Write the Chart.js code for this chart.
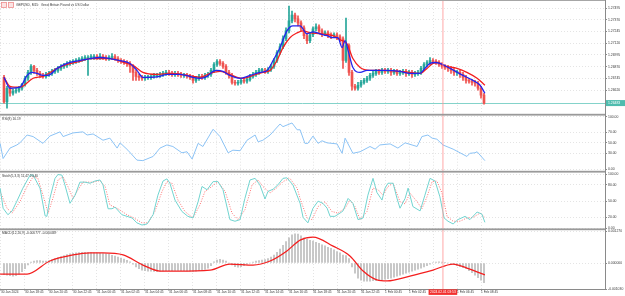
<!DOCTYPE html>
<html>
<head>
<meta charset="utf-8">
<title>GBPUSD M15</title>
<script src="https://cdn.jsdelivr.net/npm/chart.js@4.4.1/dist/chart.umd.min.js"></script>
<style>
html,body{margin:0;padding:0;background:#fff;}
#wrap{position:relative;width:625px;height:296px;overflow:hidden;background:#fff;}
#wrap canvas{position:absolute;left:0;top:0;}
</style>
</head>
<body>
<div id="wrap">
<canvas id="cMain" width="625" height="296"></canvas>
<canvas id="cRsi" width="625" height="296"></canvas>
<canvas id="cSto" width="625" height="296"></canvas>
<canvas id="cMacd" width="625" height="296"></canvas>
</div>
<script>
// ---------------- DATA ----------------
const timeTickIdx = [-1,7,15,23,31,39,47,55,63,71,79,87,95,103,111,119,127,135,143,151,159];
const timeTickLabels = ['30 Jan 2024','30 Jan 18:45','30 Jan 20:45','30 Jan 22:45','31 Jan 00:45','31 Jan 02:45','31 Jan 04:45','31 Jan 06:45','31 Jan 08:45','31 Jan 10:45','31 Jan 12:45','31 Jan 14:45','31 Jan 16:45','31 Jan 18:45','31 Jan 20:45','31 Jan 22:45','1 Feb 00:45','1 Feb 02:45','1 Feb 04:45','1 Feb 06:45','1 Feb 08:45'];

const priceTicks = [1.26620,1.26745,1.26870,1.26995,1.27120,1.27245,1.27370,1.27495];
const rsiTicks = [0,30,50,70,100];
const stochTicks = [0,20,50,80,100];
const macdTicks = [-0.00103,0,0.00127];

const currentPrice = 1.26483;
const cursorIdx = 146.3;
const cursorLabel = '2024.02.01 03:53';

const opens = [1.26757,1.26494,1.26641,1.26588,1.26609,1.26620,1.26641,1.26683,1.26747,1.26810,
 1.26873,1.26831,1.26799,1.26778,1.26768,1.26789,1.26799,1.26820,1.26831,1.26852,
 1.26873,1.26884,1.26905,1.26915,1.26926,1.26936,1.26947,1.26957,1.26957,1.26968,
 1.26968,1.26978,1.26968,1.26978,1.26968,1.26957,1.26968,1.26978,1.26957,1.26936,
 1.26926,1.26915,1.26905,1.26873,1.26810,1.26768,1.26757,1.26747,1.26757,1.26757,
 1.26768,1.26778,1.26778,1.26789,1.26799,1.26810,1.26799,1.26789,1.26799,1.26789,
 1.26778,1.26778,1.26768,1.26757,1.26725,1.26747,1.26768,1.26757,1.26778,1.26789,
 1.26831,1.26894,1.26926,1.26905,1.26873,1.26810,1.26778,1.26704,1.26694,1.26704,
 1.26725,1.26715,1.26736,1.26768,1.26789,1.26810,1.26831,1.26831,1.26820,1.26841,
 1.26873,1.26936,1.27021,1.27084,1.27168,1.27252,1.27358,1.27421,1.27379,1.27337,
 1.27284,1.27200,1.27147,1.27210,1.27274,1.27295,1.27252,1.27221,1.27231,1.27210,
 1.27200,1.27210,1.27189,1.27168,1.26936,1.27094,1.26810,1.26662,1.26641,1.26673,
 1.26704,1.26725,1.26747,1.26778,1.26799,1.26820,1.26810,1.26831,1.26820,1.26831,
 1.26810,1.26820,1.26799,1.26810,1.26820,1.26799,1.26810,1.26789,1.26799,1.26810,
 1.26852,1.26894,1.26915,1.26936,1.26926,1.26915,1.26894,1.26873,1.26862,1.26852,
 1.26831,1.26810,1.26810,1.26789,1.26757,1.26725,1.26715,1.26704,1.26694,1.26641,
 1.26567];
const closes = [1.26494,1.26641,1.26588,1.26609,1.26620,1.26641,1.26683,1.26747,1.26810,1.26873,
 1.26831,1.26799,1.26778,1.26768,1.26789,1.26799,1.26820,1.26831,1.26852,1.26873,
 1.26884,1.26905,1.26915,1.26926,1.26936,1.26947,1.26957,1.26957,1.26968,1.26968,
 1.26978,1.26968,1.26978,1.26968,1.26957,1.26968,1.26978,1.26957,1.26936,1.26926,
 1.26915,1.26905,1.26873,1.26810,1.26768,1.26757,1.26747,1.26757,1.26757,1.26768,
 1.26778,1.26778,1.26789,1.26799,1.26810,1.26799,1.26789,1.26799,1.26789,1.26778,
 1.26778,1.26768,1.26757,1.26725,1.26747,1.26768,1.26757,1.26778,1.26789,1.26831,
 1.26894,1.26926,1.26905,1.26873,1.26810,1.26778,1.26704,1.26694,1.26704,1.26725,
 1.26715,1.26736,1.26768,1.26789,1.26810,1.26831,1.26831,1.26820,1.26841,1.26873,
 1.26936,1.27021,1.27084,1.27168,1.27252,1.27358,1.27421,1.27379,1.27337,1.27284,
 1.27200,1.27147,1.27210,1.27274,1.27295,1.27252,1.27221,1.27231,1.27210,1.27200,
 1.27210,1.27189,1.27168,1.26936,1.27094,1.26810,1.26662,1.26641,1.26673,1.26704,
 1.26725,1.26747,1.26778,1.26799,1.26820,1.26810,1.26831,1.26820,1.26831,1.26810,
 1.26820,1.26799,1.26810,1.26820,1.26799,1.26810,1.26789,1.26799,1.26810,1.26852,
 1.26894,1.26915,1.26936,1.26926,1.26915,1.26894,1.26873,1.26862,1.26852,1.26831,
 1.26810,1.26810,1.26789,1.26757,1.26725,1.26715,1.26704,1.26694,1.26641,1.26567,
 1.26483];
const highs = [1.26778,1.26662,1.26662,1.26631,1.26641,1.26662,1.26694,1.26768,1.26831,1.26894,
 1.26884,1.26852,1.26820,1.26799,1.26810,1.26820,1.26841,1.26852,1.26873,1.26894,
 1.26905,1.26926,1.26936,1.26947,1.26957,1.26968,1.26978,1.26989,1.26989,1.27000,
 1.27000,1.27000,1.27010,1.27000,1.26989,1.26989,1.27010,1.27000,1.26978,1.26957,
 1.26947,1.26936,1.26926,1.26894,1.26831,1.26789,1.26778,1.26778,1.26778,1.26789,
 1.26799,1.26799,1.26810,1.26820,1.26831,1.26831,1.26820,1.26820,1.26820,1.26810,
 1.26799,1.26799,1.26789,1.26778,1.26768,1.26789,1.26789,1.26799,1.26810,1.26852,
 1.26915,1.26947,1.26947,1.26926,1.26894,1.26831,1.26799,1.26725,1.26725,1.26747,
 1.26747,1.26757,1.26789,1.26810,1.26831,1.26852,1.26852,1.26852,1.26862,1.26894,
 1.26957,1.27042,1.27115,1.27200,1.27284,1.27516,1.27463,1.27442,1.27411,1.27358,
 1.27305,1.27221,1.27231,1.27295,1.27326,1.27316,1.27274,1.27252,1.27252,1.27231,
 1.27231,1.27231,1.27210,1.27189,1.27389,1.27115,1.26831,1.26683,1.26704,1.26725,
 1.26747,1.26768,1.26799,1.26820,1.26841,1.26841,1.26852,1.26852,1.26852,1.26852,
 1.26841,1.26841,1.26831,1.26841,1.26841,1.26831,1.26831,1.26820,1.26831,1.26873,
 1.26915,1.26936,1.26968,1.26957,1.26947,1.26936,1.26915,1.26894,1.26884,1.26873,
 1.26852,1.26831,1.26831,1.26810,1.26778,1.26747,1.26736,1.26725,1.26715,1.26662,
 1.26588];
const lows = [1.26483,1.26430,1.26557,1.26567,1.26588,1.26599,1.26620,1.26662,1.26725,1.26789,
 1.26799,1.26778,1.26757,1.26747,1.26747,1.26768,1.26778,1.26799,1.26810,1.26831,
 1.26852,1.26862,1.26884,1.26894,1.26905,1.26915,1.26926,1.26936,1.26778,1.26947,
 1.26947,1.26947,1.26947,1.26947,1.26936,1.26936,1.26947,1.26936,1.26915,1.26905,
 1.26894,1.26873,1.26810,1.26725,1.26725,1.26725,1.26725,1.26725,1.26736,1.26736,
 1.26747,1.26757,1.26757,1.26768,1.26778,1.26778,1.26768,1.26768,1.26768,1.26757,
 1.26757,1.26747,1.26736,1.26694,1.26704,1.26725,1.26736,1.26736,1.26757,1.26768,
 1.26810,1.26873,1.26884,1.26852,1.26789,1.26747,1.26683,1.26673,1.26673,1.26683,
 1.26694,1.26694,1.26715,1.26747,1.26768,1.26789,1.26810,1.26799,1.26799,1.26820,
 1.26852,1.26915,1.27000,1.27063,1.27147,1.27231,1.27337,1.27347,1.27305,1.27252,
 1.27168,1.27115,1.27126,1.27189,1.27252,1.27221,1.27189,1.27200,1.27179,1.27168,
 1.27179,1.27158,1.27137,1.26852,1.26915,1.26778,1.26620,1.26620,1.26620,1.26652,
 1.26683,1.26704,1.26725,1.26757,1.26778,1.26789,1.26789,1.26799,1.26799,1.26778,
 1.26789,1.26778,1.26778,1.26789,1.26768,1.26778,1.26757,1.26768,1.26778,1.26789,
 1.26831,1.26873,1.26894,1.26905,1.26894,1.26873,1.26852,1.26841,1.26820,1.26799,
 1.26778,1.26778,1.26757,1.26725,1.26694,1.26694,1.26673,1.26662,1.26620,1.26536,
 1.26472];

// moving averages (sampled along the candle index)
const maFastIdx = [0,2,5.3,7.7,9.3,11,13,14.7,17.7,21,25.3,28.7,32,35.3,38.7,42,44.3,46.3,48.7,52,54.3,58.7,63,65.3,67.7,69.7,71,73,75.3,78.7,82,85.3,87.7,89.7,92,94.3,96.3,98.7,101,103,105.3,107.7,109.7,111.3,112.7,113.7,114.7,116.3,118.7,121,124.3,127.7,132,135.3,138.7,140.3,142,143.7,145.3,148.7,153,156.3,158.7,160.3];
const maFast = [1.26757,1.26641,1.26652,1.26778,1.26810,1.26799,1.26778,1.26778,1.26852,1.26905,
 1.26936,1.26957,1.26968,1.26957,1.26936,1.26905,1.26831,1.26757,1.26757,1.26768,
 1.26789,1.26789,1.26757,1.26747,1.26768,1.26820,1.26831,1.26820,1.26778,1.26747,
 1.26778,1.26810,1.26831,1.26936,1.27073,1.27252,1.27305,1.27305,1.27221,1.27242,
 1.27221,1.27200,1.27179,1.27179,1.27073,1.27147,1.27042,1.26862,1.26810,1.26831,
 1.26831,1.26831,1.26820,1.26799,1.26799,1.26852,1.26905,1.26915,1.26905,1.26852,
 1.26778,1.26725,1.26673,1.26588];
const maSlowIdx = [0,2,5.3,9.7,13,17.7,21,25.3,28.7,35.3,41,43,46.3,51,56.3,63,65.3,68.7,72,74.3,77.7,79.7,83,86.3,88.7,91,93,95.3,97.7,99.7,102,105.3,109.7,112,114.3,116.3,118.7,122,126.3,135.3,138.7,141,143,144.7,146.3,151,154.3,157.7,160.3];
const maSlow = [1.26757,1.26662,1.26652,1.26747,1.26768,1.26852,1.26894,1.26926,1.26957,1.26957,
 1.26905,1.26884,1.26810,1.26789,1.26799,1.26768,1.26757,1.26799,1.26820,1.26799,
 1.26757,1.26747,1.26778,1.26810,1.26831,1.26936,1.27073,1.27179,1.27231,1.27252,
 1.27231,1.27221,1.27200,1.27158,1.27115,1.26957,1.26862,1.26831,1.26831,1.26810,
 1.26799,1.26852,1.26905,1.26915,1.26884,1.26852,1.26810,1.26747,1.26673];

// RSI
const rsiIdx = [-1.3,-0.3,2,4.3,5.3,7.7,9.7,13,15.3,18.7,19.7,23,26.3,27.7,29.7,33,35.3,37.7,38.7,41.3,44.3,46.3,49.7,52,54.3,56.3,59.3,61,62.7,64.7,66.3,69.7,72,74.7,76.3,78.7,81,83.7,84.7,86.3,88.7,92,93,96,97.7,98.7,100.3,101.3,103,104.7,106,107.7,111,112.7,113.7,116.3,118.7,122,123.7,125.3,128.7,131.3,133.7,137.7,139.3,141.3,142.7,144.3,146.3,149.7,152,154.3,155.3,157,157.7,160.3];
const rsiVals = [49,20,40,46,50,65,62,49,63,71,62,69,71,65,67,55,59,40,50,36,17,16,24,40,46,43,31,33,19,49,43,76,62,31,36,35,55,65,52,55,65,86,81,88,75,75,49,49,63,49,54,50,48,30,59,30,33,43,38,46,48,40,50,43,62,65,59,57,46,38,31,24,30,31,33,16];

// Stochastic main (%K) and signal (%D)
const stochKIdx = [-1.3,-0.3,1.3,2.7,4.3,6.3,8.7,9.7,12,13.7,
 14.3,15.3,17,18,19.3,20.3,22,23.7,25.3,27,
 28.7,30.3,32,33,34.7,36,37,39.3,41,42.7,
 44.3,46,47.7,49.7,51.3,53,54.3,55.3,57,59.3,
 61.3,63,64.7,66,67.7,69.7,71.3,73,75.3,77,
 78.7,80.3,82,83.7,85.3,87,88,89.7,91.3,93,
 94.3,96.3,98.7,99.7,101.3,103,104.7,106.3,107.7,108.7,
 110.3,112,113,114.7,116.3,118,119.7,121.3,123,124.3,
 126,127,128,129.7,131,132,133.7,134.7,136.3,138.7,
 140.3,142,143.7,145.3,146.7,148,149.7,151.3,153.7,155.3,
 157.7,159.3,160.3];
const stochK = [74,37,25,32,50,74,98,98,74,23,
 22,55,92,99,98,80,46,61,85,85,
 83,87,89,80,36,36,39,25,22,19,
 10,6,8,25,61,87,91,83,52,31,
 22,19,49,77,71,86,86,71,16,13,
 16,55,89,92,80,54,68,72,80,92,
 93,80,46,20,10,37,50,46,37,22,
 22,28,32,55,46,16,19,61,92,66,
 52,74,83,83,55,37,55,74,40,32,
 61,92,87,58,19,13,8,16,22,16,
 30,26,11];
const stochDIdx = [-1.3,1,2.7,5.3,7.7,9.7,11.3,13,14.7,16.3,
 18,19.7,21.3,23,24.7,26.3,29.7,32,33.7,35.3,
 37.7,41,43,46,48,50.3,52.7,54.3,56,58,
 60.3,63,65.3,67,69.3,71.3,73.7,76,78,80.3,
 82.7,84.7,86.3,88.7,91,93,95.3,97.7,98.7,101,
 102.7,104.7,107,109.3,111.3,113.7,115.3,117,118.7,121,
 123,124.7,126.3,128,129.7,132,133.7,135.3,137.7,139.3,
 141,142.7,144.3,146,147.7,149.7,152,154.3,156.3,158.7,
 160.3];
const stochD = [68,37,28,49,77,95,92,61,28,55,
 89,95,77,55,71,85,85,88,77,43,
 37,25,20,10,10,31,68,86,83,52,
 31,19,43,68,77,86,68,28,16,34,
 80,89,77,65,75,86,92,74,55,19,
 16,40,49,31,28,37,52,40,16,31,
 74,71,61,77,83,49,45,65,49,36,
 58,86,87,65,22,13,13,19,20,28,
 20];

// MACD histogram (one bar per candle) and signal line
const macdHist = [-0.00046,-0.00048,-0.00050,-0.00052,-0.00050,-0.00044,-0.00034,-0.00022,-0.00008,0.00004,
 0.00008,0.00010,0.00010,0.00008,0.00008,0.00010,0.00014,0.00018,0.00022,0.00026,
 0.00030,0.00033,0.00036,0.00038,0.00040,0.00041,0.00042,0.00042,0.00042,0.00041,
 0.00040,0.00039,0.00038,0.00037,0.00036,0.00034,0.00031,0.00028,0.00024,0.00020,
 0.00016,0.00011,0.00005,-0.00005,-0.00015,-0.00022,-0.00028,-0.00030,-0.00032,-0.00032,
 -0.00033,-0.00033,-0.00032,-0.00031,-0.00030,-0.00030,-0.00030,-0.00029,-0.00029,-0.00030,
 -0.00030,-0.00031,-0.00032,-0.00033,-0.00032,-0.00030,-0.00028,-0.00025,-0.00020,-0.00010,
 0.00005,0.00012,0.00015,0.00012,0.00008,0.00000,-0.00008,-0.00014,-0.00016,-0.00014,
 -0.00010,-0.00005,0.00000,0.00004,0.00008,0.00010,0.00012,0.00014,0.00018,0.00024,
 0.00032,0.00042,0.00055,0.00070,0.00085,0.00100,0.00112,0.00116,0.00115,0.00108,
 0.00100,0.00095,0.00090,0.00087,0.00082,0.00078,0.00072,0.00068,0.00062,0.00058,
 0.00052,0.00045,0.00040,0.00032,0.00030,0.00018,-0.00015,-0.00040,-0.00060,-0.00068,
 -0.00072,-0.00072,-0.00072,-0.00070,-0.00070,-0.00068,-0.00066,-0.00064,-0.00062,-0.00060,
 -0.00056,-0.00052,-0.00048,-0.00044,-0.00040,-0.00036,-0.00032,-0.00028,-0.00024,-0.00020,
 -0.00015,-0.00010,-0.00005,0.00002,0.00004,0.00005,0.00004,0.00003,0.00000,-0.00002,
 -0.00006,-0.00010,-0.00014,-0.00018,-0.00022,-0.00030,-0.00038,-0.00048,-0.00058,-0.00068,
 -0.00078];
const macdSigIdx = [-1.3,7.7,15.3,23,28.7,33,39.7,46.3,52,57.7,68.7,75.3,83,88.7,94.3,98.7,103,109.7,115.3,119.7,124.3,127.7,135.3,143,149.7,154.3,160.3];
const macdSig = [-0.00044,-0.00044,0.00008,0.00032,0.00040,0.00040,0.00032,-0.00008,-0.00032,-0.00032,-0.00028,-0.00004,-0.00008,0.00008,0.00048,0.00091,0.00103,0.00067,0.00028,-0.00032,-0.00067,-0.00071,-0.00052,-0.00028,-0.00004,-0.00020,-0.00047];

// ---------------- STYLE ----------------
const X_MIN = -1.3333, X_MAX = 200.3333;
const FONT = 'Liberation Sans, Arial, sans-serif';
const TXT = '#3a3a3a';
const GRID = '#e4e4e4';
const AXIS = '#8a8a8a';
const BULL = '#26a69a', BEAR = '#ef5350';

Chart.defaults.font.family = FONT;
Chart.defaults.font.size = 3.4;
Chart.defaults.color = TXT;

function xScale(show) {
  return {
    type: 'linear', min: X_MIN, max: X_MAX, offset: false,
    afterBuildTicks: s => { s.ticks = timeTickIdx.map(v => ({value: v})); },
    afterFit: s => { s.height = show ? 7 : 0; },
    grid: { color: GRID, offset: false, drawTicks: show, tickLength: 1.5, tickColor: AXIS },
    border: { display: show, color: AXIS, dash: [1, 2] },
    ticks: { display: show, autoSkip: false, maxRotation: 0, minRotation: 0, align: 'start', padding: 0,
      color: TXT, font: { size: 3.2, family: FONT }, callback: (v, i) => timeTickLabels[i] }
  };
}
function yScale(min, max, ticks, digits) {
  return {
    type: 'linear', position: 'right', min: min, max: max,
    afterBuildTicks: s => { s.ticks = ticks.map(v => ({value: v})); },
    afterFit: s => { s.width = 20; },
    grid: { color: GRID, drawTicks: true, tickLength: 2, tickColor: AXIS },
    border: { display: false, dash: [1, 2] },
    ticks: { autoSkip: false, padding: 1, color: TXT, font: { size: 3.4, family: FONT },
      callback: v => Number(v).toFixed(digits) }
  };
}
function baseOptions(padTop, padBottom) {
  return {
    responsive: false, animation: false, events: [], devicePixelRatio: 1,
    layout: { padding: { top: padTop, bottom: padBottom, left: 0, right: 0 } },
    plugins: { legend: { display: false }, tooltip: { enabled: false } }
  };
}
function titlePlugin(id, text, x, y) {
  return { id: id, afterDraw(chart) {
    const ctx = chart.ctx; ctx.save();
    ctx.font = '3.3px ' + FONT; ctx.fillStyle = TXT; ctx.textBaseline = 'middle'; ctx.textAlign = 'left';
    ctx.fillText(text, x, y); ctx.restore();
  } };
}
const pts = (xs, ys) => xs.map((x, k) => ({ x: x, y: ys[k] }));

// ---------------- MAIN (price) ----------------
const candleColors = closes.map((c, i) => c >= opens[i] ? BULL : BEAR);
const mainOverlay = {
  id: 'mainOverlay',
  beforeDatasetsDraw(chart) {
    const { ctx, chartArea, scales } = chart;
    const py = Math.round(scales.y.getPixelForValue(currentPrice)) + 0.5;
    ctx.save(); ctx.strokeStyle = '#84d3ca'; ctx.lineWidth = 1;
    ctx.beginPath(); ctx.moveTo(chartArea.left, py); ctx.lineTo(chartArea.right, py); ctx.stroke();
    ctx.restore();
  },
  afterDraw(chart) {
    const { ctx, chartArea, scales } = chart;
    const py = scales.y.getPixelForValue(currentPrice);
    ctx.save();
    ctx.fillStyle = '#4fbcae';
    ctx.fillRect(chartArea.right + 1, py - 3, 19, 6);
    ctx.fillStyle = '#ffffff'; ctx.font = '3.4px ' + FONT; ctx.textBaseline = 'middle'; ctx.textAlign = 'left';
    ctx.fillText(currentPrice.toFixed(5), chartArea.right + 3, py);
    // small toolbar icons + title
    ctx.fillStyle = '#fbe3e3'; ctx.strokeStyle = '#ee8d8d'; ctx.lineWidth = 0.8;
    ctx.fillRect(1.5, 2.5, 5, 5); ctx.strokeRect(1.5, 2.5, 5, 5);
    ctx.fillRect(8.5, 2.5, 5, 5); ctx.strokeRect(8.5, 2.5, 5, 5);
    ctx.font = '3.3px ' + FONT; ctx.fillStyle = TXT;
    ctx.fillText('GBPUSD, M15:  Great Britain Pound vs US Dollar', 16, 5.2);
    ctx.restore();
  }
};
new Chart(document.getElementById('cMain'), {
  type: 'bar',
  data: { datasets: [
    { type: 'line', data: pts(maFastIdx, maFast), borderColor: '#2424ee', borderWidth: 1.3, pointRadius: 0, cubicInterpolationMode: 'monotone', order: 1 },
    { type: 'line', data: pts(maSlowIdx, maSlow), borderColor: '#f41f1f', borderWidth: 1.3, pointRadius: 0, cubicInterpolationMode: 'monotone', order: 2 },
    { type: 'bar', data: closes.map((c, i) => ({ x: i, y: [lows[i], highs[i]] })), backgroundColor: candleColors, barThickness: 1, grouped: false, order: 4 },
    { type: 'bar', data: closes.map((c, i) => ({ x: i, y: [opens[i], c] })), backgroundColor: candleColors, barThickness: 2, minBarLength: 1, grouped: false, order: 3 }
  ] },
  options: Object.assign(baseOptions(2, 182.5), {
    scales: { x: xScale(false), y: yScale(1.26372, 1.27548, priceTicks, 5) }
  }),
  plugins: [mainOverlay]
});

// ---------------- RSI ----------------
new Chart(document.getElementById('cRsi'), {
  type: 'line',
  data: { datasets: [
    { data: pts(rsiIdx, rsiVals), borderColor: '#8cc3f5', borderWidth: 1, pointRadius: 0, tension: 0 }
  ] },
  options: Object.assign(baseOptions(116.7, 127), {
    scales: { x: xScale(false), y: yScale(0, 100, rsiTicks, 2) }
  }),
  plugins: [titlePlugin('rsiTitle', 'RSI(8) 16.19', 2, 118.8)]
});

// ---------------- Stochastic ----------------
new Chart(document.getElementById('cSto'), {
  type: 'line',
  data: { datasets: [
    { data: pts(stochKIdx, stochK), borderColor: '#72d4d0', borderWidth: 1, pointRadius: 0, tension: 0, order: 1 },
    { data: pts(stochDIdx, stochD), borderColor: '#ff7272', borderWidth: 1, borderDash: [1, 1.5], pointRadius: 0, tension: 0, order: 2 }
  ] },
  options: Object.assign(baseOptions(174, 67.7), {
    scales: { x: xScale(false), y: yScale(0, 100, stochTicks, 2) }
  }),
  plugins: [titlePlugin('stoTitle', 'Stoch(5,3,3) 11.47 20.40', 2, 176)]
});

// ---------------- MACD + frame overlay ----------------
const frameOverlay = {
  id: 'frameOverlay',
  afterDraw(chart) {
    const { ctx, scales } = chart;
    const cx = scales.x.getPixelForValue(cursorIdx);
    ctx.save();
    // cursor (pale)
    ctx.strokeStyle = 'rgba(255,150,150,0.6)'; ctx.lineWidth = 1.4;
    ctx.beginPath(); ctx.moveTo(cx, 0); ctx.lineTo(cx, 289); ctx.stroke();
    // outer frame / separators
    ctx.fillStyle = '#a6a6a6';
    ctx.fillRect(0, 0, 606, 1);
    ctx.fillStyle = '#9a9a9a';
    ctx.fillRect(0, 113.8, 606, 1.8);
    ctx.fillRect(0, 170.8, 606, 1.8);
    ctx.fillRect(0, 228.4, 606, 1.8);
    ctx.fillStyle = AXIS;
    ctx.fillRect(605, 0, 1, 289.5);
    // cursor time box
    ctx.font = '3.3px ' + FONT;
    const w = ctx.measureText(cursorLabel).width + 3;
    ctx.fillStyle = '#f2302e';
    ctx.fillRect(cx - w / 2, 289.3, w, 5.6);
    ctx.fillStyle = '#ffffff'; ctx.textAlign = 'center'; ctx.textBaseline = 'middle';
    ctx.fillText(cursorLabel, cx, 292.2);
    ctx.restore();
  }
};
new Chart(document.getElementById('cMacd'), {
  type: 'bar',
  data: { datasets: [
    { type: 'line', data: pts(macdSigIdx, macdSig), borderColor: '#f41f1f', borderWidth: 1.3, pointRadius: 0, cubicInterpolationMode: 'monotone', order: 1 },
    { type: 'bar', data: macdHist.map((v, i) => ({ x: i, y: v })), backgroundColor: '#bdbdbd', barThickness: 1, grouped: false, order: 2 }
  ] },
  options: Object.assign(baseOptions(231, 0), {
    scales: { x: xScale(true), y: yScale(-0.00103, 0.00127, macdTicks, 6) }
  }),
  plugins: [titlePlugin('macdTitle', 'MACD(12,26,9) -0.000777 -0.000469', 2, 233.2), frameOverlay]
});
</script>
</body>
</html>
